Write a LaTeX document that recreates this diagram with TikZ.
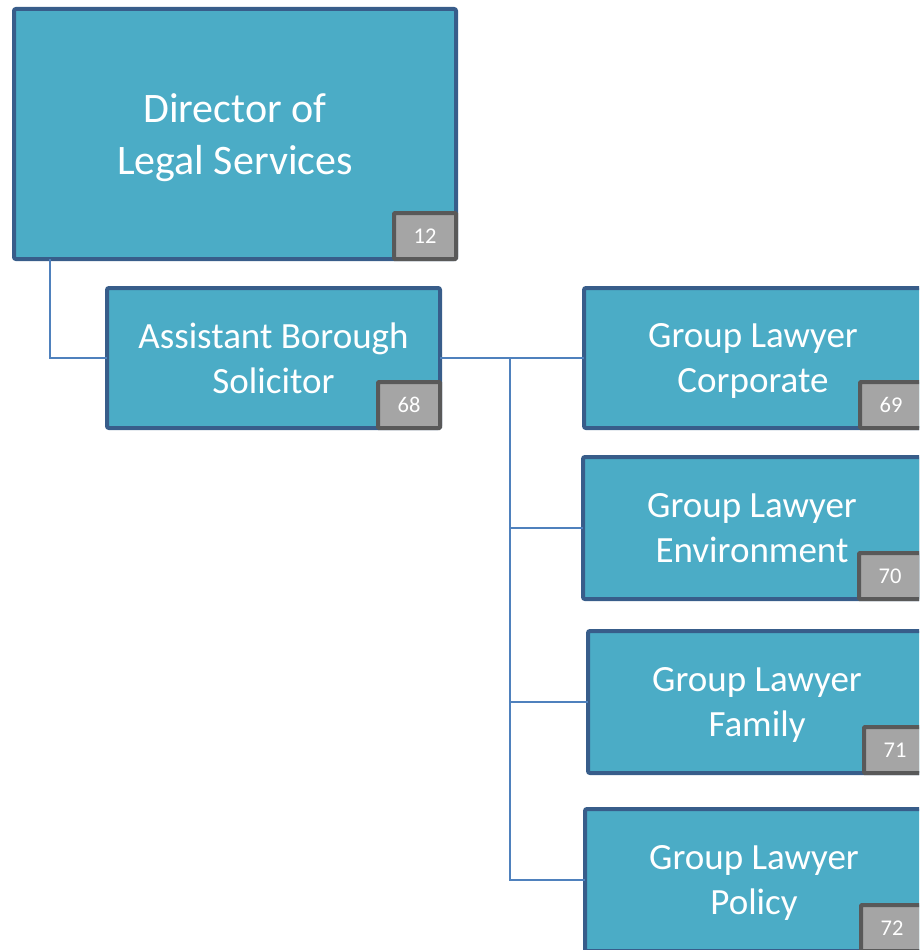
\documentclass[tikz,border=0pt]{standalone}
\usepackage{fontspec}
\setmainfont{Carlito}
\usepackage{xcolor}
\definecolor{boxfill}{HTML}{4BACC6}
\definecolor{boxline}{HTML}{385D8A}
\definecolor{tagfill}{HTML}{A5A5A5}
\definecolor{tagline}{HTML}{595959}
\definecolor{linkblue}{HTML}{4F81BD}

\begin{document}
\begin{tikzpicture}[x=1pt,y=1pt]
	\tikzstyle{every node}+=[inner sep=0pt, outer sep=0pt]
	\tikzstyle{post}=[draw=boxline, fill=boxfill, line width=4pt, rounded corners=2pt, text=white, align=center, text depth=0pt, font=\fontsize{37}{45}\selectfont]
	\tikzstyle{tag}=[draw=tagline, fill=tagfill, line width=4pt, rounded corners=1pt, text=white, minimum width=62pt, minimum height=46pt, font=\fontsize{22.5}{26}\selectfont, anchor=south east]
	\tikzstyle{link}=[draw=linkblue, line width=1.5pt]
	\useasboundingbox (0,0) rectangle (919,-950);
	\clip (0,0) rectangle (919,-950);
	\node[post, minimum width=442pt, minimum height=250pt, font=\fontsize{42}{52}\selectfont] (dir) at (235,-134) {Director of\\Legal Services};
	\node[tag] (t12) at (dir.south east) {12};
	\node[post, minimum width=333pt, minimum height=140pt] (asb) at (273.5,-358) {Assistant Borough\\Solicitor};
	\node[tag] (t68) at (asb.south east) {68};
	\coordinate (bus) at (510,-358);
	\node[post, minimum width=338pt, minimum height=140pt] (glc) at (753,-358) {Group Lawyer\\Corporate};
	\node[tag] (t69) at (glc.south east) {69};
	\node[post, minimum width=338pt, minimum height=142pt] (gle) at (752,-528) {Group Lawyer\\Environment};
	\node[tag] (t70) at (gle.south east) {70};
	\node[post, minimum width=338pt, minimum height=142pt] (glf) at (757,-702) {Group Lawyer\\Family};
	\node[tag] (t71) at (glf.south east) {71};
	\node[post, minimum width=338pt, minimum height=142pt] (glp) at (754,-880) {Group Lawyer\\Policy};
	\node[tag] (t72) at (glp.south east) {72};
	\draw[link] (dir.south west) ++(36,0) |- (asb.west);
	\draw[link] (asb.east) -- (bus);
	\foreach \n in {glc,gle,glf,glp}
		\draw[link] (bus) |- (\n.west);
\end{tikzpicture}
\end{document}
